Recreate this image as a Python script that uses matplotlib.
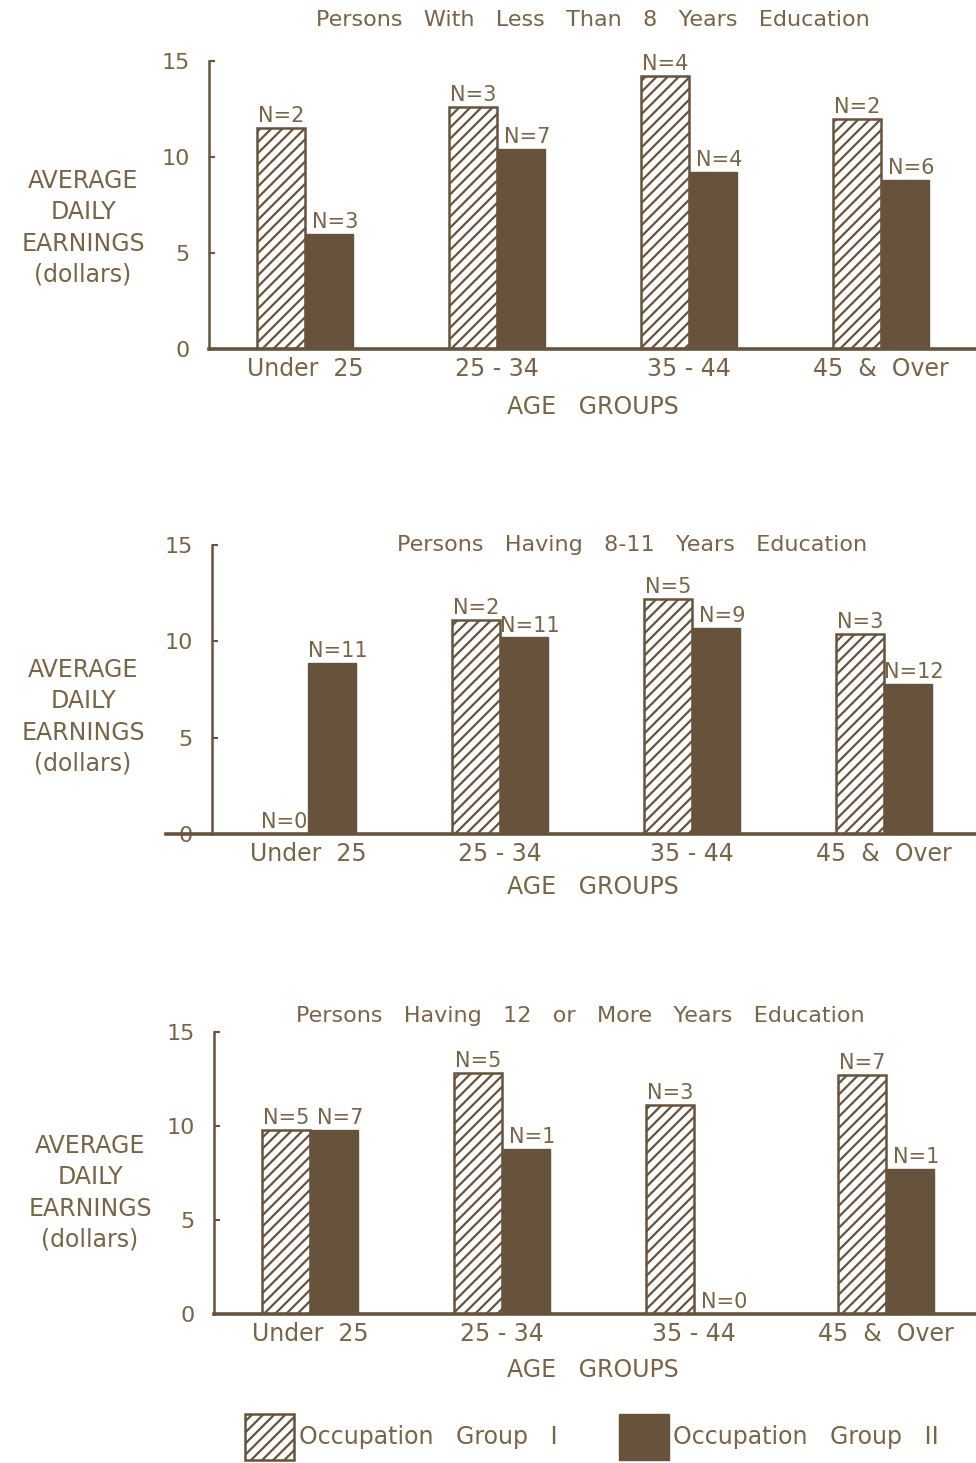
import numpy as np
import matplotlib.pyplot as plt
from matplotlib.patches import Patch

# age groups and the two occupation groups
groups = ['Under  25', '25 - 34', '35 - 44', '45  &  Over']
titles = ['Persons   With   Less   Than   8   Years   Education',
          'Persons   Having   8-11   Years   Education',
          'Persons   Having   12   or   More   Years   Education']

# average daily earnings (dollars)
occ1 = [[11.5, 12.6, 14.2, 12.0],
        [0.0, 11.1, 12.2, 10.4],
        [9.8, 12.8, 11.1, 12.7]]
occ2 = [[6.0, 10.4, 9.2, 8.8],
        [8.9, 10.2, 10.7, 7.8],
        [9.8, 8.8, 0.0, 7.7]]
n1 = [[2, 3, 4, 2],
      [0, 2, 5, 3],
      [5, 5, 3, 7]]
n2 = [[3, 7, 4, 6],
      [11, 11, 9, 12],
      [7, 1, 0, 1]]

W, H = 976, 1463
ink = '#67533b'
txt = '#7a6446'
plt.rcParams['hatch.color'] = ink
plt.rcParams['hatch.linewidth'] = 1.6
plt.rcParams['font.family'] = ['DejaVu Sans']

fig = plt.figure(figsize=(W / 100, H / 100), dpi=100)

def fx(x):
    return x / W

def fy(y):
    return 1 - y / H

# pixel layout of each panel: (left, right, y of zero, y of 15)
panels = [(209, 977, 349, 61), (212, 980, 834, 545), (214, 982, 1314, 1032)]
title_pos = [(593, 20), (632, 545), (580, 1016)]
ylab_pos = [(83, 228), (83, 717), (90, 1193)]
age_y = [407, 887, 1370]
base_left = [-0.5, -0.74, -0.5]

w = 0.25
x = np.arange(len(groups))
for k in range(3):
    l, r, y0, y15 = panels[k]
    ax = fig.add_axes([fx(l), fy(y0), fx(r - l), (y0 - y15) / H])
    ax.bar(x - w / 2, occ1[k], w, facecolor='white', edgecolor=ink,
           hatch='///', linewidth=1.8)
    ax.bar(x + w / 2, occ2[k], w, color=ink, edgecolor=ink, linewidth=1.0)
    for i in range(len(groups)):
        ax.text(x[i] - w / 2, occ1[k][i] + 0.1, 'N=%d' % n1[k][i], ha='center',
                va='bottom', fontsize=15, color=txt)
        ax.text(x[i] + w / 2 + 0.03, occ2[k][i] + 0.1, 'N=%d' % n2[k][i],
                ha='center', va='bottom', fontsize=15, color=txt)
    ax.set_xlim(-0.5, 3.5)
    ax.set_ylim(0, 15)
    ax.set_yticks([0, 5, 10, 15])
    ax.set_xticks(x)
    ax.set_xticklabels(groups, fontsize=17, color=txt)
    ax.tick_params(axis='x', length=0, pad=6)
    ax.tick_params(axis='y', direction='in', length=4, width=1.5, color=ink,
                   labelsize=16, labelcolor=txt, pad=14)
    for s in ['top', 'right']:
        ax.spines[s].set_visible(False)
    ax.spines['left'].set_color(ink)
    ax.spines['left'].set_linewidth(1.8)
    ax.spines['bottom'].set_color(ink)
    ax.spines['bottom'].set_linewidth(2.6)
    ax.spines['bottom'].set_bounds(base_left[k], 3.5)
    ax.patch.set_alpha(0)

    fig.text(fx(title_pos[k][0]), fy(title_pos[k][1]), titles[k], ha='center',
             va='center', fontsize=16, color=txt)
    fig.text(fx(ylab_pos[k][0]), fy(ylab_pos[k][1]),
             'AVERAGE\nDAILY\nEARNINGS\n(dollars)', ha='center', va='center',
             fontsize=17, color=txt, linespacing=1.38)
    fig.text(fx(593), fy(age_y[k]), 'AGE   GROUPS', ha='center', va='center',
             fontsize=17, color=txt)

handles = [Patch(facecolor='white', edgecolor=ink, hatch='///', linewidth=1.8),
           Patch(facecolor=ink, edgecolor=ink)]
fig.legend(handles, ['Occupation   Group   I', 'Occupation   Group   II'],
           loc='center', bbox_to_anchor=(fx(592), fy(1437)), ncol=2,
           frameon=False, fontsize=17, labelcolor=txt, handlelength=2.1,
           handleheight=2.6, handletextpad=0.2, columnspacing=2.6)

fig.savefig('out.png', dpi=100, facecolor='white')
